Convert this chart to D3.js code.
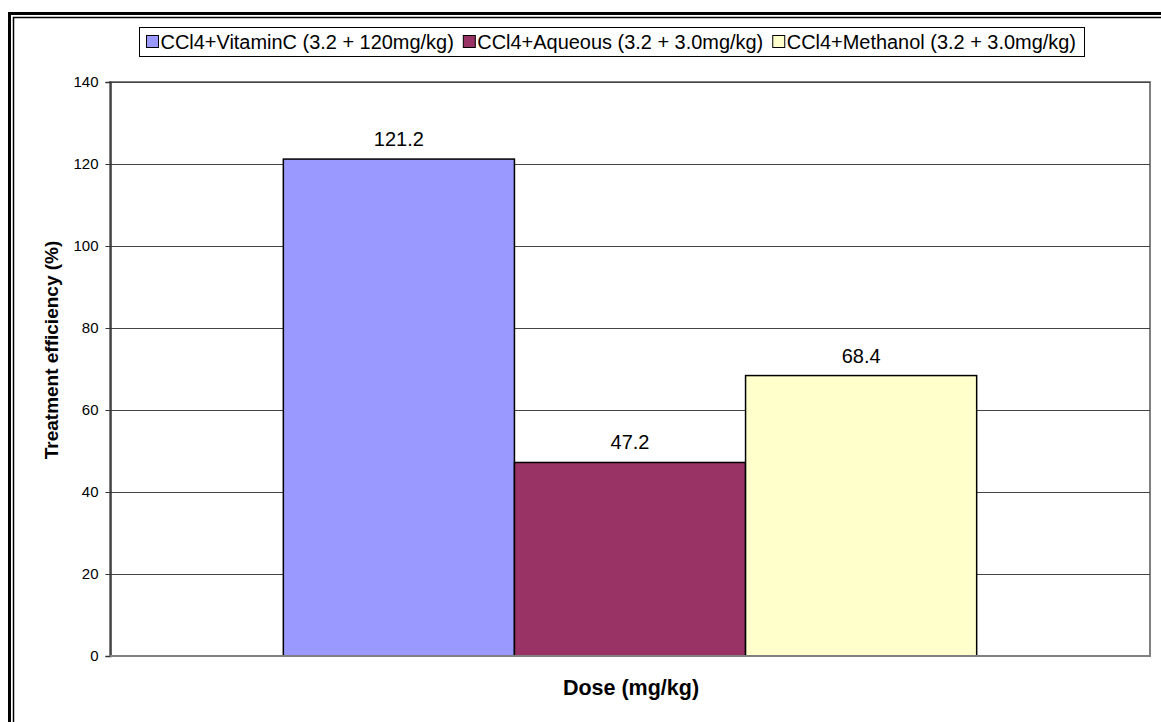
<!DOCTYPE html>
<html>
<head>
<meta charset="utf-8">
<script src="https://cdn.jsdelivr.net/npm/d3@7"></script>
<style>
  html, body { margin: 0; padding: 0; background: #fff; }
  svg { display: block; font-family: Arial, "Liberation Sans", sans-serif; }
</style>
</head>
<body>
<svg id="chart" width="1161" height="722"></svg>
<script>
// ---- data ----
const seriesNames = [
  "CCl4+VitaminC (3.2 + 120mg/kg)",
  "CCl4+Aqueous (3.2 + 3.0mg/kg)",
  "CCl4+Methanol (3.2 + 3.0mg/kg)"
];
const seriesValues = [121.2, 47.2, 68.4];
const seriesColors = ["#9999FF", "#993366", "#FFFFCC"];
const categories = [""];
const yTicks = [0, 20, 40, 60, 80, 100, 120, 140];
const yTitle = "Treatment efficiency (%)";
const xTitle = "Dose (mg/kg)";

// ---- layout ----
const svg = d3.select("#chart");
const plot = { left: 110, top: 82, right: 1150, bottom: 656 };

// outer double frame
svg.append("rect").attr("x", 9.5).attr("y", 13.5).attr("width", 1200).attr("height", 800)
  .attr("fill", "none").attr("stroke", "#000").attr("stroke-width", 3);
svg.append("rect").attr("x", 13.5).attr("y", 17.5).attr("width", 1200).attr("height", 800)
  .attr("fill", "none").attr("stroke", "#000").attr("stroke-width", 1.5);

const y = d3.scaleLinear().domain([0, 140]).range([plot.bottom, plot.top]);
const x0 = d3.scaleBand().domain(categories).range([plot.left, plot.right]).paddingInner(0).paddingOuter(0);
// Excel gap width 150%: group occupies 3/(3+1.5) of the category
const groupW = x0.bandwidth() * 3 / 4.5;
const x1 = d3.scaleBand().domain(seriesNames)
  .range([x0(categories[0]) + (x0.bandwidth() - groupW) / 2, x0(categories[0]) + (x0.bandwidth() + groupW) / 2]);

// plot area background & border
svg.append("rect").attr("x", plot.left).attr("y", plot.top)
  .attr("width", plot.right - plot.left).attr("height", plot.bottom - plot.top)
  .attr("fill", "#fff").attr("stroke", "#808080").attr("stroke-width", 2);

// gridlines
svg.append("g").selectAll("line").data(yTicks.filter(d => d > 0)).join("line")
  .attr("x1", plot.left).attr("x2", plot.right)
  .attr("y1", d => Math.round(y(d)) + 0.5).attr("y2", d => Math.round(y(d)) + 0.5)
  .attr("stroke", "#444").attr("stroke-width", 1);

// bars
svg.append("g").selectAll("rect").data(seriesValues).join("rect")
  .attr("x", (d, i) => x1(seriesNames[i]))
  .attr("y", d => y(d))
  .attr("width", x1.bandwidth())
  .attr("height", d => plot.bottom - y(d))
  .attr("fill", (d, i) => seriesColors[i])
  .attr("stroke", "#000").attr("stroke-width", 1.5);

// value labels
svg.append("g").selectAll("text").data(seriesValues).join("text")
  .attr("x", (d, i) => x1(seriesNames[i]) + x1.bandwidth() / 2)
  .attr("y", d => y(d) - 13)
  .attr("text-anchor", "middle")
  .attr("font-size", 20).attr("fill", "#000")
  .text(d => d.toFixed(1));

// y axis
const yAxis = d3.axisLeft(y).tickValues(yTicks).tickSize(5).tickPadding(7).tickFormat(d3.format("d"));
const gy = svg.append("g").attr("transform", `translate(${plot.left + 0.5},0)`).call(yAxis);
gy.select(".domain").attr("stroke", "#333").attr("stroke-width", 1.5);
gy.selectAll(".tick line").attr("stroke", "#333");
gy.selectAll(".tick text").attr("font-size", 15).attr("fill", "#000")
  .attr("font-family", "Arial, 'Liberation Sans', sans-serif");

// bottom baseline (category axis)
svg.append("line").attr("x1", plot.left).attr("x2", plot.right)
  .attr("y1", plot.bottom).attr("y2", plot.bottom)
  .attr("stroke", "#808080").attr("stroke-width", 2);

// axis titles
svg.append("text")
  .attr("transform", `translate(58,350) rotate(-90)`)
  .attr("text-anchor", "middle").attr("font-weight", "bold").attr("font-size", 19)
  .text(yTitle);
svg.append("text")
  .attr("x", (plot.left + plot.right) / 2 + 1).attr("y", 695)
  .attr("text-anchor", "middle").attr("font-weight", "bold").attr("font-size", 21.5)
  .text(xTitle);

// legend
const legend = svg.append("g");
const legLeft = 139, legRight = 1084, legFont = 19.95;
legend.append("rect").attr("x", legLeft + 0.5).attr("y", 27.5).attr("width", legRight - legLeft).attr("height", 29)
  .attr("fill", "#fff").attr("stroke", "#000").attr("stroke-width", 1);
const items = legend.selectAll("g.item").data(seriesNames).join("g").attr("class", "item");
items.append("rect").attr("x", 0.5).attr("y", 35.5).attr("width", 12).attr("height", 12)
  .attr("fill", (d, i) => seriesColors[i]).attr("stroke", "#000").attr("stroke-width", 1);
items.append("text").attr("x", 14.5).attr("y", 48.5).attr("font-size", legFont).attr("fill", "#000")
  .text(d => d);
// sequential layout between left and right padding
const widths = [];
items.selectAll("text").each(function () { widths.push(this.getComputedTextLength()); });
const startX = legLeft + 7, endX = legRight - 8;
const used = widths.reduce((a, b) => a + b, 0) + 14.5 * widths.length;
const gap = (endX - startX - used) / (widths.length - 1);
let cx = startX;
items.each(function (d, i) {
  d3.select(this).attr("transform", `translate(${cx},0)`);
  cx += 14.5 + widths[i] + gap;
});
</script>
</body>
</html>
